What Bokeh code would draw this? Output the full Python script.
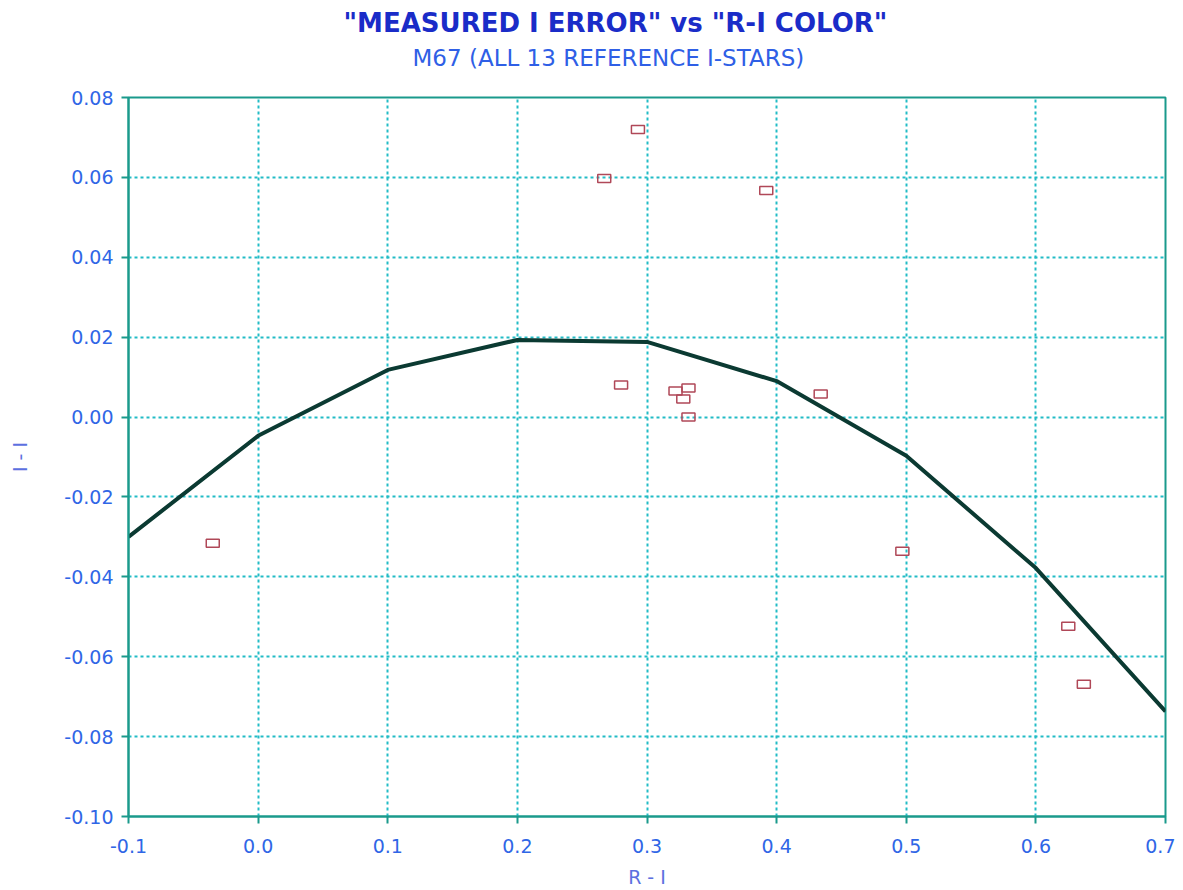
from bokeh.plotting import figure
from bokeh.models import Range1d, Title, FixedTicker, CustomJSTickFormatter
from bokeh.embed import file_html
from bokeh.resources import INLINE

# Data
star_ri = [-0.035, 0.267, 0.293, 0.392, 0.280, 0.322, 0.332, 0.328, 0.332, 0.434, 0.497, 0.625, 0.637]
star_err = [-0.0316, 0.0597, 0.0720, 0.0567, 0.0080, 0.0065, 0.0073, 0.0045, 0.0000, 0.0058, -0.0336, -0.0524, -0.0669]

fit_ri = [-0.1, 0.0, 0.1, 0.2, 0.3, 0.4, 0.5, 0.6, 0.7]
fit_err = [-0.030, -0.0047, 0.0118, 0.0193, 0.0188, 0.0090, -0.0097, -0.0378, -0.0737]

x_ticks = [-0.1, 0.0, 0.1, 0.2, 0.3, 0.4, 0.5, 0.6, 0.7]
y_ticks = [-0.10, -0.08, -0.06, -0.04, -0.02, 0.00, 0.02, 0.04, 0.06, 0.08]

title_text = '"MEASURED I ERROR" vs "R-I COLOR"'
subtitle_text = "M67 (ALL 13 REFERENCE I-STARS)"

FONT = "DejaVu Sans"
LABEL_BLUE = "#2f66e6"
TEAL = "#1a9a8c"
GRID = "#22bcc6"

p = figure(width=1175, height=890, output_backend="svg", toolbar_location=None, title=None,
           x_range=Range1d(-0.1, 0.7), y_range=Range1d(-0.10, 0.08),
           min_border_left=128, min_border_right=10, min_border_top=0, min_border_bottom=60)

p.outline_line_color = TEAL
p.outline_line_width = 2

for ax in (p.xaxis[0], p.yaxis[0]):
    ax.axis_line_color = TEAL
    ax.axis_line_width = 2
    ax.major_tick_line_color = TEAL
    ax.major_tick_line_width = 2
    ax.major_tick_out = 7
    ax.major_tick_in = 0
    ax.minor_tick_line_color = None
    ax.major_label_text_color = LABEL_BLUE
    ax.major_label_text_font = FONT
    ax.major_label_text_font_size = "19px"
    ax.axis_label_text_color = "#5c70e0"
    ax.axis_label_text_font = FONT
    ax.axis_label_text_font_size = "19px"
    ax.axis_label_text_font_style = "normal"

p.xaxis.ticker = FixedTicker(ticks=x_ticks)
p.yaxis.ticker = FixedTicker(ticks=y_ticks)
p.xaxis.formatter = CustomJSTickFormatter(code="return tick.toFixed(1);")
p.yaxis.formatter = CustomJSTickFormatter(code="return tick.toFixed(2);")
p.xaxis.axis_label = "R - I"
p.yaxis.axis_label = "I - I"
p.xaxis.major_label_standoff = 15
p.yaxis.major_label_standoff = 8
p.xaxis.axis_label_standoff = 10
p.yaxis.axis_label_standoff = 30

p.grid.grid_line_color = GRID
p.grid.grid_line_width = 2
p.grid.grid_line_dash = "3 3"
p.xgrid.ticker = FixedTicker(ticks=x_ticks)
p.ygrid.ticker = FixedTicker(ticks=y_ticks)

p.line(fit_ri, fit_err, line_color="#0b3a32", line_width=4)
p.rect(star_ri, star_err, width=13, height=8, width_units="screen", height_units="screen",
       fill_color="white", fill_alpha=0.0, line_color="#b04858", line_width=1.5)

# spacer between subtitle and frame (first added = nearest the frame)
p.add_layout(Title(text=" ", text_font_size="10px", standoff=14), "above")
p.add_layout(Title(text=subtitle_text, align="left", offset=284,
                   text_font=FONT, text_font_size="23px", text_font_style="normal",
                   text_color="#2f5fe6", standoff=0), "above")
p.add_layout(Title(text=title_text, align="left", offset=215,
                   text_font=FONT, text_font_size="26px", text_font_style="bold",
                   text_color="#1a2cc8", standoff=10), "above")

open("out.html", "w").write(file_html(p, INLINE))
